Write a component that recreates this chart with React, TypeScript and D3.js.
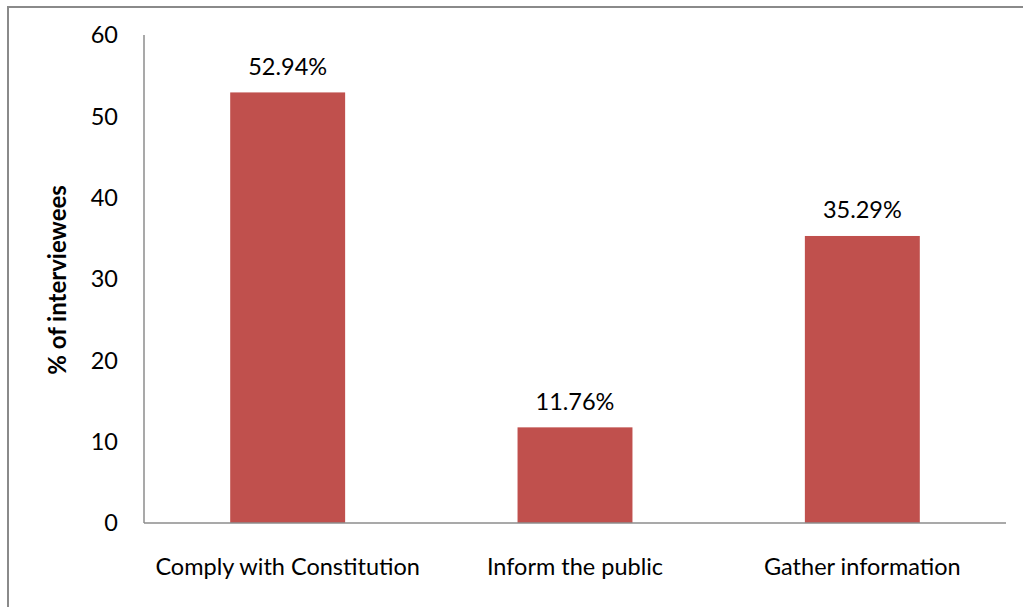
import React from "react";
import * as d3 from "d3";

const categories = ["Comply with Constitution", "Inform the public", "Gather information"];
const values = [52.94, 11.76, 35.29];
const valueLabels = ["52.94%", "11.76%", "35.29%"];
const yTicks = [0, 10, 20, 30, 40, 50, 60];
const yTitle = "% of interviewees";

const W = 1023;
const H = 607;
const margin = { left: 144, right: 1006, top: 35, bottom: 523 };
const FONT = "Lato, 'Open Sans', sans-serif";

export default function App() {
  const x = d3
    .scaleBand<string>()
    .domain(categories)
    .range([margin.left, margin.right])
    .paddingInner(0.6)
    .paddingOuter(0.3);
  const y = d3.scaleLinear().domain([0, 60]).range([margin.bottom, margin.top]);

  return (
    <svg
      width={W}
      height={H}
      style={{ position: "absolute", left: 0, top: 0, background: "#fff" }}
    >
      <rect x={8} y={7} width={W + 10} height={H + 10} fill="#fff" stroke="#8a8a8a" strokeWidth={2} />
      {categories.map((c, i) => (
        <rect
          key={c}
          x={x(c)!}
          y={y(values[i])}
          width={x.bandwidth()}
          height={y(0) - y(values[i])}
          fill="#C0504D"
        />
      ))}
      <line x1={margin.left} x2={margin.left} y1={margin.top} y2={margin.bottom} stroke="#8c8c8c" strokeWidth={1.5} />
      <line x1={margin.left} x2={margin.right} y1={margin.bottom} y2={margin.bottom} stroke="#8c8c8c" strokeWidth={1.5} />
      {yTicks.map((t) => (
        <text
          key={t}
          x={118}
          y={y(t)}
          dy="0.35em"
          textAnchor="end"
          fontFamily={FONT}
          fontSize={23.5}
          fill="#000"
        >
          {t}
        </text>
      ))}
      {categories.map((c, i) => (
        <text
          key={c}
          x={x(c)! + x.bandwidth() / 2}
          y={567}
          dy="0.35em"
          textAnchor="middle"
          fontFamily={FONT}
          fontSize={23.5}
          fill="#000"
        >
          {c}
        </text>
      ))}
      {categories.map((c, i) => (
        <text
          key={c}
          x={x(c)! + x.bandwidth() / 2}
          y={y(values[i]) - 26}
          dy="0.35em"
          textAnchor="middle"
          fontFamily={FONT}
          fontSize={23.5}
          fill="#000"
        >
          {valueLabels[i]}
        </text>
      ))}
      <text
        transform={`translate(58,280) rotate(-90)`}
        dy="0.35em"
        textAnchor="middle"
        fontFamily={FONT}
        fontSize={24}
        fontWeight="bold"
        fill="#000"
      >
        {yTitle}
      </text>
    </svg>
  );
}
